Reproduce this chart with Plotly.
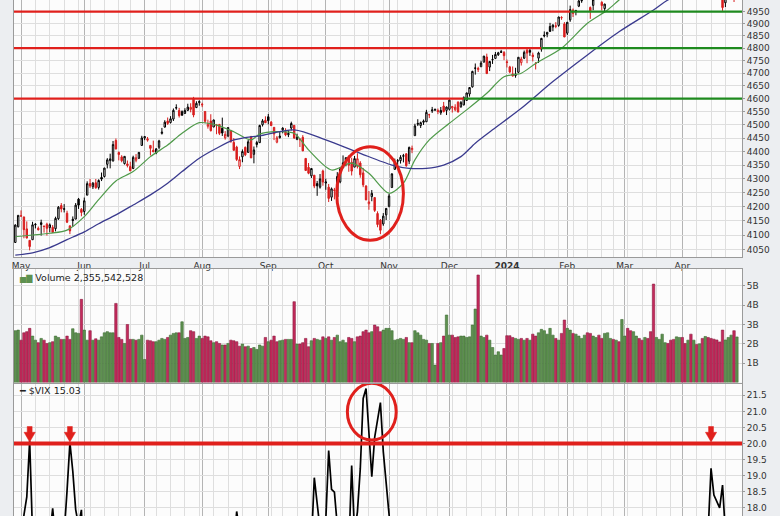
import numpy as np
import pandas as pd
import plotly.graph_objects as go

# ---------------- calendar ----------------
START, END = "2023-04-27", "2024-04-26"
HOLIDAYS = ["2023-05-29", "2023-06-19", "2023-07-04", "2023-09-04", "2023-11-23",
            "2023-12-25", "2024-01-01", "2024-01-15", "2024-02-19", "2024-03-29"]

# ---------------- S&P 500 daily OHLC ----------------
open_ = [4075.3, 4129.6,
 4166.8, 4164.1, 4122.2, 4082.6, 4084.7, 4136.1, 4124.3, 4143.7, 4132.2, 4138.5, 4126.7, 4127.9, 4122.9, 4157.7, 4204.2, 4190.8, 4176.8, 4132.9, 4155.7, 4156.2, 4226.7, 4190.7,
 4183.0, 4241.0, 4283.0, 4271.3, 4285.5, 4268.7, 4304.9, 4308.3, 4352.6, 4366.3, 4365.3, 4440.9, 4396.1, 4380.0, 4355.4, 4354.2, 4344.8, 4337.4, 4367.5, 4374.9, 4422.4,
 4450.5, 4442.0, 4422.6, 4404.5, 4394.2, 4415.6, 4467.7, 4491.5, 4514.6, 4508.9, 4521.8, 4563.9, 4554.4, 4550.2, 4543.4, 4555.2, 4559.0, 4598.3, 4565.8, 4584.8,
 4578.8, 4550.9, 4494.3, 4514.0, 4491.6, 4498.0, 4501.6, 4487.2, 4450.7, 4458.1, 4478.9, 4433.8, 4416.3, 4344.9, 4380.3, 4415.3, 4396.4, 4455.2, 4389.4, 4426.0, 4432.8, 4500.3, 4517.0,
 4530.6, 4510.1, 4490.4, 4434.6, 4451.3, 4481.0, 4473.3, 4462.6, 4487.8, 4498.0, 4445.1, 4445.4, 4452.8, 4374.4, 4341.7, 4310.6, 4312.9, 4282.6, 4269.7, 4328.2,
 4284.5, 4269.8, 4233.8, 4259.3, 4234.8, 4289.0, 4339.8, 4366.6, 4380.9, 4360.5, 4342.4, 4345.2, 4357.4, 4321.4, 4273.9, 4210.4, 4235.8, 4232.4, 4176.0, 4152.9, 4139.4, 4171.3,
 4201.3, 4268.3, 4334.2, 4364.3, 4366.2, 4384.4, 4391.4, 4364.2, 4406.7, 4459.0, 4505.3, 4497.1, 4509.6, 4511.7, 4538.8, 4553.0, 4555.8, 4554.9, 4545.6, 4571.8, 4554.9,
 4559.4, 4564.4, 4557.3, 4586.2, 4568.8, 4576.2, 4593.4, 4618.3, 4646.2, 4721.0, 4714.2, 4725.6, 4743.7, 4764.7, 4724.3, 4753.9, 4758.9, 4773.5, 4786.4, 4782.9,
 4745.2, 4725.1, 4697.4, 4690.6, 4703.7, 4741.9, 4759.9, 4792.1, 4791.2, 4772.4, 4739.1, 4760.1, 4796.3, 4853.4, 4856.8, 4888.6, 4886.7, 4888.9, 4893.0, 4925.9, 4899.2,
 4861.1, 4916.1, 4957.2, 4950.2, 4973.1, 4995.2, 5004.2, 5026.8, 4967.9, 4976.4, 5003.1, 5031.1, 4989.3, 4963.0, 5038.8, 5100.9, 5093.0, 5074.6, 5067.2, 5085.4,
 5098.5, 5131.0, 5110.5, 5108.0, 5132.4, 5164.5, 5112.0, 5134.3, 5173.5, 5175.1, 5123.3, 5154.8, 5139.1, 5181.7, 5253.4, 5242.5, 5219.5, 5228.9, 5226.3, 5248.0,
 5258.0, 5204.3, 5194.4, 5244.1, 5158.9, 5211.4, 5217.0, 5167.9, 5173.0, 5171.5, 5149.7, 5064.6, 5069.0, 5031.5, 5005.4, 4987.3, 5028.9, 5084.9, 5019.9, 5084.7]

high = [4138.2, 4170.1,
 4186.9, 4164.1, 4148.3, 4082.6, 4147.0, 4142.3, 4130.4, 4154.3, 4132.8, 4143.7, 4141.3, 4135.5, 4164.7, 4202.2, 4212.9, 4209.2, 4185.7, 4132.9, 4165.7, 4212.9, 4231.1, 4195.4,
 4232.4, 4290.7, 4299.3, 4288.3, 4299.2, 4298.0, 4322.6, 4340.1, 4375.4, 4391.8, 4439.2, 4448.5, 4400.2, 4386.2, 4382.3, 4366.6, 4362.1, 4384.4, 4390.4, 4398.4, 4458.5,
 4456.5, 4454.1, 4422.6, 4440.4, 4412.6, 4443.6, 4488.3, 4517.4, 4527.8, 4532.9, 4562.3, 4578.4, 4564.7, 4555.0, 4563.4, 4580.6, 4582.5, 4607.1, 4590.2, 4594.2,
 4584.6, 4550.9, 4519.5, 4540.3, 4519.8, 4503.3, 4502.4, 4527.4, 4476.2, 4490.3, 4478.9, 4450.0, 4421.2, 4381.8, 4407.6, 4418.6, 4443.2, 4458.3, 4418.5, 4439.6, 4500.1, 4521.7, 4532.3,
 4541.3, 4514.3, 4490.4, 4457.8, 4473.5, 4490.8, 4487.1, 4479.4, 4512.0, 4498.0, 4466.4, 4449.9, 4461.0, 4375.7, 4357.4, 4338.5, 4313.0, 4292.1, 4317.3, 4333.1,
 4300.6, 4281.2, 4268.5, 4267.1, 4324.1, 4341.7, 4385.5, 4378.6, 4385.9, 4377.1, 4383.3, 4393.6, 4364.2, 4339.5, 4276.6, 4255.8, 4259.4, 4232.4, 4183.6, 4156.7, 4177.5, 4195.6,
 4245.6, 4319.7, 4373.6, 4372.2, 4386.3, 4391.2, 4393.4, 4418.0, 4421.8, 4504.1, 4521.2, 4512.0, 4520.1, 4557.1, 4542.1, 4568.4, 4560.3, 4562.1, 4568.1, 4587.6, 4569.9,
 4599.4, 4572.4, 4578.6, 4590.7, 4590.9, 4609.2, 4623.7, 4643.9, 4709.7, 4738.6, 4725.5, 4749.5, 4768.7, 4778.0, 4748.7, 4772.9, 4784.7, 4785.4, 4793.3, 4788.4,
 4754.3, 4729.3, 4726.8, 4721.5, 4764.5, 4765.5, 4790.8, 4798.5, 4802.4, 4782.3, 4744.2, 4785.8, 4842.1, 4868.4, 4866.5, 4903.7, 4898.2, 4906.7, 4929.3, 4931.1, 4906.8,
 4907.0, 4975.3, 4963.4, 4957.8, 4999.9, 5000.4, 5030.1, 5048.4, 4971.3, 5002.5, 5032.7, 5038.7, 4993.7, 4983.2, 5094.4, 5111.1, 5097.7, 5080.7, 5077.4, 5105.0,
 5140.3, 5149.7, 5114.5, 5128.0, 5165.6, 5189.3, 5124.7, 5179.9, 5179.1, 5176.9, 5136.9, 5175.6, 5180.3, 5226.2, 5261.1, 5246.1, 5229.1, 5235.2, 5249.3, 5264.9,
 5264.0, 5208.3, 5228.8, 5256.6, 5222.2, 5219.6, 5224.8, 5178.4, 5211.8, 5175.0, 5168.4, 5079.8, 5078.0, 5056.7, 5019.0, 5038.8, 5076.1, 5089.5, 5057.8, 5114.6]

low = [4075.3, 4127.2,
 4164.1, 4089.7, 4088.9, 4048.3, 4084.7, 4123.8, 4116.7, 4098.9, 4109.3, 4099.1, 4110.3, 4109.9, 4113.6, 4153.5, 4180.2, 4179.7, 4142.5, 4104.0, 4129.7, 4156.2, 4192.2, 4166.2,
 4171.6, 4241.0, 4266.8, 4263.1, 4264.0, 4261.1, 4291.7, 4304.4, 4337.7, 4337.9, 4362.6, 4407.4, 4367.2, 4360.1, 4351.8, 4341.3, 4328.1, 4335.0, 4360.2, 4372.0, 4422.4,
 4442.3, 4436.6, 4385.1, 4397.4, 4389.9, 4408.5, 4463.2, 4489.4, 4499.6, 4504.9, 4514.6, 4557.5, 4527.6, 4535.8, 4541.3, 4552.4, 4547.6, 4528.6, 4564.0, 4573.1,
 4567.5, 4505.8, 4485.5, 4474.6, 4491.2, 4464.4, 4461.3, 4457.9, 4444.0, 4453.4, 4432.2, 4403.6, 4364.8, 4335.3, 4360.3, 4382.8, 4396.4, 4375.6, 4356.3, 4415.0, 4431.7, 4493.6, 4507.4,
 4501.4, 4496.0, 4442.4, 4430.5, 4448.4, 4467.9, 4456.8, 4453.5, 4478.7, 4447.2, 4442.1, 4416.6, 4401.4, 4329.2, 4316.5, 4302.7, 4266.0, 4238.6, 4264.4, 4274.9,
 4260.2, 4216.5, 4220.5, 4225.9, 4219.6, 4283.8, 4339.6, 4345.3, 4325.4, 4312.0, 4342.4, 4337.5, 4303.8, 4269.7, 4223.0, 4189.2, 4219.4, 4181.4, 4127.9, 4103.8, 4132.9, 4153.1,
 4197.7, 4268.3, 4334.2, 4347.5, 4355.4, 4359.8, 4343.9, 4353.3, 4393.8, 4459.0, 4495.3, 4487.8, 4499.7, 4510.4, 4525.5, 4545.1, 4552.8, 4540.5, 4537.9, 4547.2, 4537.2,
 4554.7, 4546.7, 4551.7, 4546.5, 4565.2, 4574.1, 4593.4, 4608.1, 4643.2, 4694.3, 4704.7, 4725.6, 4743.7, 4697.8, 4708.4, 4736.8, 4758.5, 4768.9, 4781.0, 4752.0,
 4722.7, 4699.7, 4687.5, 4682.1, 4699.8, 4730.4, 4756.2, 4739.6, 4769.0, 4747.1, 4714.8, 4740.6, 4785.9, 4844.1, 4844.4, 4865.9, 4869.3, 4881.5, 4887.4, 4916.3, 4845.2,
 4853.5, 4908.0, 4927.9, 4934.9, 4969.1, 4987.1, 5001.9, 5016.9, 4920.3, 4956.1, 4999.4, 4999.5, 4955.0, 4946.0, 5038.8, 5081.5, 5068.9, 5057.3, 5058.4, 5061.9,
 5094.2, 5127.2, 5056.8, 5092.2, 5128.2, 5117.5, 5091.1, 5114.5, 5151.9, 5123.3, 5104.4, 5145.5, 5131.6, 5171.6, 5240.7, 5229.9, 5216.1, 5203.4, 5213.9, 5245.8,
 5229.2, 5184.1, 5194.4, 5146.1, 5157.2, 5197.4, 5160.8, 5138.7, 5138.8, 5107.9, 5052.5, 5039.8, 5007.3, 5001.9, 4953.6, 4969.4, 5028.0, 5047.0, 4990.6, 5073.1]

close = [4135.4, 4169.5,
 4167.9, 4119.6, 4090.8, 4061.2, 4136.3, 4138.1, 4119.2, 4137.6, 4130.6, 4124.1, 4136.3, 4109.9, 4158.8, 4198.1, 4192.0, 4192.6, 4145.6, 4115.2, 4151.3, 4205.45, 4205.52, 4179.8,
 4221.0, 4282.4, 4273.8, 4283.9, 4267.5, 4293.9, 4298.9, 4338.9, 4369.0, 4372.6, 4425.8, 4409.6, 4388.7, 4365.7, 4381.9, 4348.3, 4328.8, 4378.4, 4376.9, 4396.4, 4450.4,
 4455.6, 4446.8, 4411.6, 4399.0, 4409.5, 4439.3, 4472.2, 4510.0, 4505.4, 4522.8, 4555.0, 4565.7, 4534.9, 4536.3, 4554.6, 4567.5, 4566.8, 4537.4, 4582.2, 4589.0,
 4576.7, 4513.4, 4501.9, 4478.0, 4518.4, 4499.4, 4467.7, 4468.8, 4464.1, 4489.7, 4437.9, 4404.3, 4370.4, 4369.7, 4399.8, 4387.6, 4436.0, 4376.3, 4405.7, 4433.3, 4497.6, 4514.9, 4507.7,
 4515.8, 4496.8, 4465.5, 4451.1, 4457.5, 4487.5, 4461.9, 4467.4, 4505.1, 4450.3, 4453.5, 4444.0, 4402.2, 4330.0, 4320.1, 4337.4, 4273.5, 4274.5, 4299.7, 4288.1,
 4288.4, 4229.5, 4263.8, 4258.2, 4308.5, 4335.7, 4358.2, 4377.0, 4349.6, 4327.8, 4373.6, 4373.2, 4314.6, 4278.0, 4224.2, 4217.0, 4247.7, 4186.8, 4137.2, 4117.4, 4166.8, 4193.8,
 4237.9, 4317.8, 4358.3, 4366.0, 4378.4, 4382.8, 4347.4, 4415.2, 4411.6, 4495.7, 4502.9, 4508.2, 4514.0, 4547.4, 4538.2, 4556.6, 4559.3, 4550.4, 4554.9, 4550.6, 4567.8,
 4594.6, 4569.8, 4567.2, 4549.3, 4585.6, 4604.4, 4622.4, 4643.7, 4707.1, 4719.6, 4719.2, 4740.6, 4768.4, 4698.4, 4746.8, 4754.6, 4774.8, 4781.6, 4783.4, 4769.8,
 4742.8, 4704.8, 4688.7, 4697.2, 4763.5, 4756.5, 4783.5, 4780.2, 4783.8, 4766.0, 4739.2, 4780.9, 4839.8, 4850.4, 4864.6, 4868.6, 4894.2, 4891.0, 4927.9, 4925.0, 4845.7,
 4906.2, 4958.6, 4942.8, 4954.2, 4995.1, 4997.9, 5026.6, 5021.8, 4953.2, 5000.6, 5029.7, 5005.6, 4975.5, 4981.8, 5087.0, 5088.8, 5069.5, 5078.2, 5069.8, 5096.3,
 5137.1, 5131.0, 5078.7, 5104.8, 5157.4, 5123.7, 5117.9, 5175.3, 5165.3, 5150.5, 5117.1, 5149.4, 5178.5, 5224.6, 5241.5, 5234.2, 5218.2, 5203.6, 5248.5, 5254.4,
 5243.8, 5205.8, 5211.5, 5147.2, 5204.3, 5202.4, 5209.9, 5160.6, 5199.1, 5123.4, 5061.8, 5051.4, 5022.2, 5011.1, 4967.2, 5010.6, 5070.6, 5071.6, 5048.4, 5100.0]

# volume, billions of shares
volume_bn = [2.68, 2.71,
 2.19, 2.57, 2.63, 2.80, 2.40, 2.19, 2.06, 2.28, 2.19, 2.02, 2.06, 2.11, 2.40, 2.33, 2.23, 2.23, 2.40, 2.23, 2.78, 2.57, 2.54, 4.30,
 2.71, 2.19, 2.68, 2.19, 2.26, 2.19, 2.36, 2.57, 2.63, 2.57, 2.57, 4.09, 2.33, 2.23, 2.02, 3.00, 2.23, 2.23, 2.19, 2.23, 2.45,
 1.19, 2.19, 2.16, 2.11, 2.11, 2.19, 2.28, 2.23, 2.33, 2.45, 2.54, 2.57, 2.57, 3.14, 2.28, 2.33, 2.68, 2.63, 2.28, 2.40,
 2.28, 2.40, 2.36, 2.16, 2.06, 2.11, 2.02, 1.94, 1.94, 2.02, 2.19, 2.16, 2.11, 1.88, 1.99, 1.85, 1.88, 1.76, 1.81, 1.71, 1.94, 1.88, 2.33,
 2.11, 2.19, 2.40, 2.11, 2.16, 2.19, 2.23, 2.23, 2.23, 4.18, 1.99, 1.99, 2.06, 2.28, 1.85, 2.16, 2.28, 2.23, 2.19, 2.36,
 2.28, 2.36, 2.19, 2.33, 2.45, 2.11, 2.19, 2.06, 2.33, 2.28, 2.11, 2.36, 2.40, 2.63, 2.71, 2.57, 2.63, 2.97, 2.88, 2.63, 2.71, 2.80,
 2.80, 2.68, 2.19, 2.23, 2.28, 2.23, 2.33, 2.06, 2.06, 2.68, 2.57, 2.45, 2.23, 2.19, 2.02, 2.02, 0.90, 2.02, 2.06, 2.40, 3.49,
 2.45, 2.45, 2.33, 2.36, 2.40, 2.40, 2.33, 2.36, 2.97, 3.80, 5.56, 2.40, 2.33, 2.45, 2.19, 1.81, 1.42, 1.59, 1.42, 1.76,
 2.42, 2.42, 2.33, 2.28, 2.23, 2.28, 2.19, 2.28, 2.19, 2.50, 2.40, 2.57, 2.75, 2.68, 2.50, 2.80, 2.45, 2.28, 2.19, 2.54, 3.23,
 2.80, 2.71, 2.54, 2.50, 2.40, 2.28, 2.45, 2.57, 2.54, 2.40, 2.33, 2.45, 2.28, 2.54, 2.57, 2.28, 2.23, 2.19, 2.11, 3.26,
 2.40, 2.80, 2.68, 2.63, 2.40, 2.28, 2.19, 2.33, 2.28, 2.63, 5.09, 2.33, 2.23, 2.50, 2.06, 2.02, 2.19, 2.23, 2.36, 2.33,
 2.33, 2.02, 2.19, 2.50, 2.19, 1.97, 2.00, 2.28, 2.38, 2.33, 2.28, 2.24, 2.20, 2.10, 2.71, 2.20, 2.33, 2.45, 2.68, 2.355542528]

vix = [17.03, 15.78,
 16.08, 17.78, 18.34, 20.09, 17.19, 16.98, 17.71, 16.94, 16.93, 17.03, 17.12, 17.99, 16.87, 16.05, 16.81, 17.21, 18.53, 20.03, 19.14, 17.95, 17.46, 17.94,
 15.65, 14.60, 14.73, 13.96, 13.94, 13.65, 13.83, 15.01, 14.61, 13.88, 14.50, 13.54, 13.88, 13.20, 12.91, 13.44, 14.25, 13.74, 13.43, 13.54, 13.59,
 13.57, 14.18, 15.44, 14.83, 14.84, 14.84, 13.54, 13.61, 13.34, 13.48, 13.30, 13.76, 13.99, 13.60, 13.91, 13.86, 13.19, 14.41, 13.33, 13.63,
 13.93, 15.88, 15.92, 17.10, 15.77, 15.99, 15.96, 15.85, 14.84, 14.82, 16.46, 16.78, 17.89, 17.30, 17.13, 16.97, 15.98, 17.20, 15.68, 15.08, 14.45, 13.88, 13.57,
 13.09, 14.02, 14.45, 15.00, 13.84, 13.80, 14.23, 13.48, 12.82, 13.79, 14.00, 14.11, 15.14, 17.54, 17.20, 16.90, 18.94, 18.22, 17.34, 17.52,
 17.61, 19.78, 18.58, 18.49, 17.45, 17.70, 17.03, 16.09, 16.69, 19.32, 17.21, 17.88, 19.22, 21.40, 21.71, 20.37, 18.97, 20.19, 20.68, 21.27, 19.75, 18.14,
 16.87, 15.66, 14.91, 14.89, 14.81, 14.45, 15.29, 14.17, 14.76, 14.16, 14.18, 14.32, 13.80, 13.41, 13.35, 12.85, 12.46, 12.69, 12.69, 12.98, 12.92,
 12.63, 13.08, 12.85, 12.97, 13.06, 12.35, 12.63, 12.07, 12.19, 12.48, 12.28, 12.56, 12.53, 13.67, 13.65, 13.03, 12.99, 12.43, 12.47, 12.45,
 13.20, 14.04, 14.13, 13.35, 13.08, 12.76, 12.69, 12.44, 12.70, 13.84, 14.79, 14.13, 13.30, 13.19, 12.55, 13.14, 13.45, 13.26, 13.60, 13.31, 14.35,
 13.88, 13.85, 13.67, 12.93, 12.79, 12.79, 12.93, 13.94, 15.85, 14.38, 14.01, 14.24, 15.42, 15.34, 14.54, 13.75, 13.74, 13.43, 13.84, 13.40,
 13.11, 13.49, 14.46, 14.50, 14.44, 14.74, 15.23, 13.88, 13.75, 14.40, 14.41, 14.33, 13.82, 12.92, 13.06, 13.06, 13.19, 13.24, 12.78, 13.01,
 13.65, 14.61, 14.33, 16.35, 16.03, 15.19, 14.98, 15.80, 14.91, 17.31, 19.23, 18.40, 18.21, 18.00, 18.71, 16.94, 15.69, 15.97, 15.37, 15.03]

# moving averages (date, value)
ma20_dates = ["2023-04-27", "2023-05-05", "2023-05-15", "2023-05-23", "2023-06-01", "2023-06-08", "2023-06-16",
              "2023-06-27", "2023-07-06", "2023-07-14", "2023-07-21", "2023-07-31", "2023-08-08", "2023-08-16",
              "2023-08-24", "2023-08-29", "2023-09-07", "2023-09-15", "2023-09-22", "2023-10-04", "2023-10-13",
              "2023-10-23", "2023-11-01", "2023-11-08", "2023-11-14", "2023-11-21", "2023-12-01", "2023-12-11",
              "2023-12-20", "2023-12-29", "2024-01-09", "2024-01-17", "2024-01-30", "2024-02-12", "2024-02-22",
              "2024-02-28", "2024-03-15", "2024-03-28", "2024-04-12", "2024-04-26"]
ma20_vals = [4095, 4101, 4107, 4118, 4165, 4225, 4292, 4326, 4381, 4424, 4468, 4508, 4499, 4474,
             4443, 4465, 4474, 4468, 4406, 4332, 4357, 4320, 4248, 4284, 4369, 4443, 4506, 4557,
             4621, 4686, 4700, 4739, 4800, 4902, 4957, 4999, 5120, 5190, 5200, 5130]
ma50_dates = ["2023-04-27", "2023-05-05", "2023-05-15", "2023-05-23", "2023-06-01", "2023-06-08", "2023-06-16",
              "2023-06-27", "2023-07-06", "2023-07-14", "2023-07-21", "2023-07-31", "2023-08-08", "2023-08-16",
              "2023-08-24", "2023-08-29", "2023-09-15", "2023-10-02", "2023-10-18", "2023-11-02", "2023-11-10",
              "2023-11-20", "2023-11-29", "2023-12-07", "2023-12-14", "2023-12-22", "2024-01-09", "2024-01-25",
              "2024-02-12", "2024-02-28", "2024-03-15", "2024-03-22", "2024-04-12", "2024-04-26"]
ma50_vals = [4032, 4040, 4058, 4085, 4112, 4140, 4171, 4206, 4242, 4284, 4326, 4375, 4412, 4443,
             4455, 4458, 4481, 4443, 4393, 4350, 4338, 4338, 4350, 4381, 4431, 4481, 4563, 4667,
             4773, 4867, 4957, 4999, 5075, 5120]

# annotation levels
price_levels = [4600, 4800, 4950]
level_breakouts = ["2023-12-08", "2024-01-19", "2024-02-02"]
vix_level = 20.0
vix_arrow_dates = ["2023-05-04", "2023-05-24", "2024-04-15"]
month_labels = ["May", "Jun", "Jul", "Aug", "Sep", "Oct", "Nov", "Dec", "<b>2024</b>", "Feb", "Mar", "Apr"]

# ---------------- derived positions ----------------
dates = pd.bdate_range(START, END, freq="C", holidays=HOLIDAYS)
n = len(dates)
x = list(range(n))
pos_of = {d.strftime("%Y-%m-%d"): i for i, d in enumerate(dates)}
month_pos = [i for i in range(1, n) if dates[i].month != dates[i - 1].month]
week_pos = [i for i in range(1, n) if dates[i].isocalendar()[1] != dates[i - 1].isocalendar()[1]]

up = [i == 0 or close[i] >= close[i - 1] for i in range(n)]

# ---------------- style ----------------
W, H = 780, 516
ML, MR = 14, 38
PAPER = "#eceef1"
PLOT = "#fcfcfc"
GRID = "#dedede"
MGRID = "#b4b4b4"
BORDER = "#9a9a9a"
RED = "#e0201c"
GRN_LVL = "#1e8a1e"
CANDLE_RED = "#d81e1e"
VOL_G, VOL_R = "#5e9150", "#c42a5c"
VOL_GL, VOL_RL = "#3d6b33", "#8c1c40"
FONT = "DejaVu Sans"
XR = [-0.45, 252.77]

def dom(top_px, bot_px):
    return [1 - bot_px / H, 1 - top_px / H]

fig = go.Figure()

def pick(arr, mask):
    return [a for a, m in zip(arr, mask) if m]

for mask, col in [(up, "#000000"), ([not u for u in up], CANDLE_RED)]:
    fig.add_trace(go.Candlestick(
        x=pick(x, mask), open=pick(open_, mask), high=pick(high, mask),
        low=pick(low, mask), close=pick(close, mask),
        increasing=dict(line=dict(color=col, width=1), fillcolor="#ffffff"),
        decreasing=dict(line=dict(color=col, width=1), fillcolor=col),
        whiskerwidth=0, xaxis="x", yaxis="y", showlegend=False, hoverinfo="skip"))

fig.add_trace(go.Scatter(x=[pos_of[d] for d in ma20_dates], y=ma20_vals, mode="lines",
                         line=dict(color="#4f9a4a", width=1.2, shape="spline", smoothing=0.8),
                         xaxis="x", yaxis="y", hoverinfo="skip"))
fig.add_trace(go.Scatter(x=[pos_of[d] for d in ma50_dates], y=ma50_vals, mode="lines",
                         line=dict(color="#3a3a8e", width=1.3, shape="spline", smoothing=0.8),
                         xaxis="x", yaxis="y", hoverinfo="skip"))

fig.add_trace(go.Bar(x=x, y=volume_bn,
                     marker=dict(color=[VOL_G if u else VOL_R for u in up],
                                 line=dict(color=[VOL_GL if u else VOL_RL for u in up], width=0.6)),
                     xaxis="x2", yaxis="y2", hoverinfo="skip"))

fig.add_trace(go.Scatter(x=x, y=vix, mode="lines", line=dict(color="#000000", width=1.7),
                         xaxis="x3", yaxis="y3", hoverinfo="skip"))

# ---------------- shapes ----------------
shapes = []
for lvl, bo in zip(price_levels, level_breakouts):
    p = pos_of[bo]
    shapes.append(dict(type="line", xref="x", yref="y", x0=XR[0], x1=p, y0=lvl, y1=lvl,
                       line=dict(color=RED, width=2.2)))
    shapes.append(dict(type="line", xref="x", yref="y", x0=p, x1=XR[1], y0=lvl, y1=lvl,
                       line=dict(color=GRN_LVL, width=2.2)))

# ellipse around the October low (price panel)
c_pos = pos_of["2023-10-24"] - 0.6
shapes.append(dict(type="circle", xref="x", yref="y", x0=c_pos - 11.6, x1=c_pos + 11.6,
                   y0=4083, y1=4418, line=dict(color=RED, width=3)))

# VIX 20 line, circle and arrows
shapes.append(dict(type="line", xref="x3", yref="y3", x0=XR[0], x1=XR[1], y0=vix_level, y1=vix_level,
                   line=dict(color=RED, width=4)))
v_pos = pos_of["2023-10-24"]
shapes.append(dict(type="circle", xref="x3", yref="y3", x0=v_pos - 8.5, x1=v_pos + 8.5,
                   y0=20.11, y1=21.87, line=dict(color=RED, width=3)))
for d in vix_arrow_dates:
    p = pos_of[d]
    path = (f"M {p-0.85},20.53 L {p+0.85},20.53 L {p+0.85},20.35 L {p+1.95},20.35 "
            f"L {p},20.05 L {p-1.95},20.35 L {p-0.85},20.35 Z")
    shapes.append(dict(type="path", xref="x3", yref="y3", path=path,
                       fillcolor=RED, line=dict(color=RED, width=0.5)))

fig.update_layout(shapes=shapes)

# ---------------- axes ----------------
tickfont = dict(family=FONT, size=9, color="#333333")
xcommon = dict(range=XR, tickmode="array", tickvals=month_pos, showgrid=True, gridcolor=MGRID,
               gridwidth=1, zeroline=False, showline=True, linecolor=BORDER, linewidth=1,
               minor=dict(tickmode="array", tickvals=week_pos, showgrid=True, gridcolor=GRID, gridwidth=1),
               fixedrange=True)
price_ticks = list(range(4050, 5001, 50))

fig.update_layout(
    width=W, height=H, margin=dict(l=ML, r=MR, t=0, b=0),
    paper_bgcolor=PAPER, plot_bgcolor=PLOT, showlegend=False,
    font=dict(family=FONT, size=9, color="#333333"),
    xaxis=dict(**xcommon, domain=[0, 1], anchor="y", ticktext=month_labels, showticklabels=True,
               ticks="", tickfont=tickfont, rangeslider=dict(visible=False), mirror=False),
    xaxis2=dict(**xcommon, domain=[0, 1], anchor="y2", matches="x", showticklabels=False, ticks="",
                mirror=True),
    xaxis3=dict(**xcommon, domain=[0, 1], anchor="y3", matches="x", showticklabels=False, ticks="",
                mirror=True),
    yaxis=dict(domain=dom(0, 257), type="log", range=[np.log10(4025.7), np.log10(4999)],
               side="right", tickmode="array", tickvals=price_ticks, ticktext=[str(t) for t in price_ticks],
               showgrid=True, gridcolor=GRID, zeroline=False, showline=True, mirror=True,
               linecolor=BORDER, ticks="outside", ticklen=2, tickcolor=BORDER, tickfont=tickfont,
               fixedrange=True),
    yaxis2=dict(domain=dom(269, 382.5), range=[0, 5.87], side="right", tickmode="array",
                tickvals=[1, 2, 3, 4, 5], ticktext=["1B", "2B", "3B", "4B", "5B"],
                showgrid=True, gridcolor=GRID, zeroline=False, showline=True, mirror=True,
                linecolor=BORDER, ticks="outside", ticklen=2, tickcolor=BORDER, tickfont=tickfont,
                fixedrange=True),
    yaxis3=dict(domain=dom(384, 516), range=[17.75, 21.85], side="right", tickmode="array",
                tickvals=[18.0, 18.5, 19.0, 19.5, 20.0, 20.5, 21.0, 21.5],
                ticktext=["18.0", "18.5", "19.0", "19.5", "20.0", "20.5", "21.0", "21.5"],
                showgrid=True, gridcolor=GRID, zeroline=False, showline=True, mirror=True,
                linecolor=BORDER, ticks="outside", ticklen=2, tickcolor=BORDER, tickfont=tickfont,
                fixedrange=True),
    bargap=0.15,
)

vol_label = f"{int(round(volume_bn[-1] * 1e9)):,}"
fig.add_annotation(xref="paper", yref="paper", x=0.004, y=1 - 270 / H, xanchor="left", yanchor="top",
                   showarrow=False, align="left",
                   text=f'<span style="color:{VOL_G};font-size:8px">▅▇</span> Volume {vol_label}',
                   font=dict(family=FONT, size=9.5, color="#222222"))
fig.add_annotation(xref="paper", yref="paper", x=0.004, y=1 - 383 / H, xanchor="left", yanchor="top",
                   showarrow=False, align="left",
                   text=f'<b>━</b> $VIX {vix[-1]:.2f}',
                   font=dict(family=FONT, size=9.5, color="#222222"))

fig.write_html("out.html", config={"displayModeBar": False},
               post_script="document.body.style.margin='0';document.body.style.overflow='hidden';")
